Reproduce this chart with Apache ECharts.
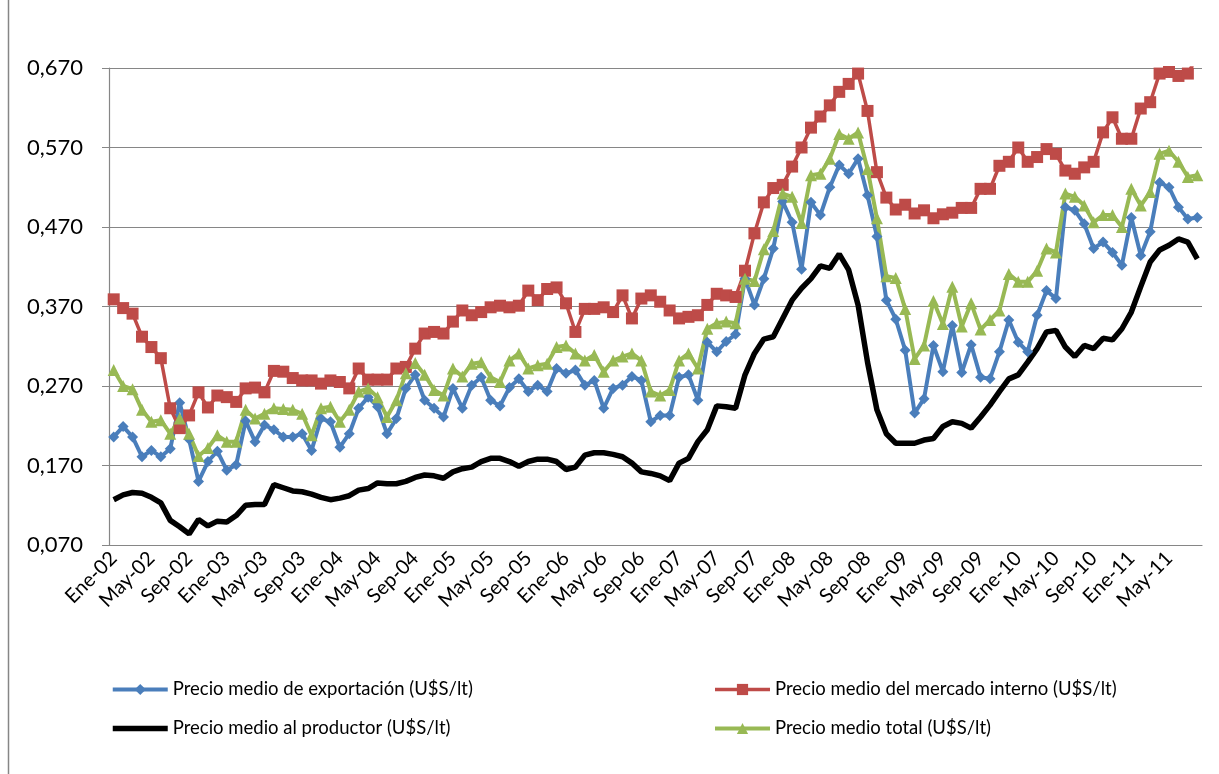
<!DOCTYPE html>
<html>
<head>
<meta charset="utf-8">
<script src="https://cdn.jsdelivr.net/npm/echarts@6/dist/echarts.min.js"></script>
<style>
html, body { margin: 0; padding: 0; background: #fff; }
#chart { width: 1219px; height: 774px; }
</style>
</head>
<body>
<div id="chart"></div>
<script>
// meses Ene-02 .. Ago-11
const monthNames = ['Ene', 'Feb', 'Mar', 'Abr', 'May', 'Jun', 'Jul', 'Ago', 'Sep', 'Oct', 'Nov', 'Dic'];
const years = ['02', '03', '04', '05', '06', '07', '08', '09', '10', '11'];
const months = [];
years.forEach(y => monthNames.forEach(m => months.push(m + '-' + y)));
months.length = 116;

const exportacion = [
  0.206, 0.219, 0.206, 0.181, 0.189, 0.181, 0.191, 0.249, 0.203, 0.150, 0.175, 0.188,
  0.164, 0.171, 0.226, 0.200, 0.221, 0.215, 0.206, 0.206, 0.210, 0.189, 0.229, 0.225,
  0.193, 0.210, 0.242, 0.256, 0.244, 0.210, 0.229, 0.267, 0.284, 0.252, 0.242, 0.231,
  0.267, 0.242, 0.271, 0.281, 0.252, 0.245, 0.268, 0.279, 0.263, 0.271, 0.263, 0.292,
  0.286, 0.290, 0.271, 0.277, 0.242, 0.267, 0.271, 0.282, 0.277, 0.225, 0.233, 0.233,
  0.281, 0.284, 0.252, 0.325, 0.313, 0.326, 0.335, 0.405, 0.372, 0.405, 0.443, 0.502,
  0.476, 0.417, 0.501, 0.485, 0.520, 0.548, 0.537, 0.556, 0.510, 0.458, 0.378, 0.354,
  0.315, 0.236, 0.254, 0.321, 0.288, 0.346, 0.287, 0.322, 0.281, 0.279, 0.313, 0.353,
  0.325, 0.313, 0.359, 0.390, 0.380, 0.495, 0.491, 0.474, 0.443, 0.451, 0.438, 0.422,
  0.482, 0.434, 0.464, 0.526, 0.520, 0.495, 0.480, 0.482
];

const mercadoInterno = [
  0.379, 0.368, 0.361, 0.332, 0.319, 0.305, 0.242, 0.217, 0.233, 0.262, 0.243, 0.258,
  0.256, 0.250, 0.267, 0.268, 0.262, 0.289, 0.288, 0.280, 0.277, 0.277, 0.273, 0.277,
  0.275, 0.267, 0.292, 0.278, 0.278, 0.278, 0.292, 0.294, 0.317, 0.336, 0.338, 0.336,
  0.351, 0.365, 0.359, 0.363, 0.369, 0.371, 0.369, 0.371, 0.390, 0.378, 0.392, 0.394,
  0.374, 0.338, 0.367, 0.367, 0.369, 0.363, 0.384, 0.355, 0.380, 0.384, 0.376, 0.365,
  0.355, 0.357, 0.359, 0.372, 0.386, 0.384, 0.382, 0.415, 0.462, 0.501, 0.519, 0.523,
  0.546, 0.570, 0.595, 0.609, 0.623, 0.640, 0.650, 0.663, 0.616, 0.539, 0.507, 0.492,
  0.498, 0.487, 0.491, 0.481, 0.486, 0.488, 0.494, 0.494, 0.518, 0.518, 0.547, 0.552,
  0.570, 0.552, 0.558, 0.568, 0.562, 0.541, 0.537, 0.545, 0.552, 0.589, 0.608, 0.581,
  0.581, 0.619, 0.627, 0.663, 0.665, 0.660, 0.663, 0.685
];

const productor = [
  0.127, 0.133, 0.136, 0.135, 0.130, 0.123, 0.101, 0.093, 0.084, 0.102, 0.094, 0.100,
  0.099, 0.107, 0.120, 0.121, 0.121, 0.146, 0.142, 0.138, 0.137, 0.134, 0.130, 0.127,
  0.129, 0.132, 0.139, 0.141, 0.148, 0.147, 0.147, 0.150, 0.155, 0.158, 0.157, 0.154,
  0.162, 0.166, 0.168, 0.175, 0.179, 0.179, 0.175, 0.169, 0.175, 0.178, 0.178, 0.175,
  0.165, 0.168, 0.183, 0.186, 0.186, 0.184, 0.181, 0.173, 0.162, 0.160, 0.157, 0.151,
  0.173, 0.179, 0.200, 0.215, 0.245, 0.244, 0.242, 0.284, 0.311, 0.329, 0.332, 0.355,
  0.378, 0.393, 0.405, 0.421, 0.418, 0.436, 0.416, 0.372, 0.300, 0.240, 0.210, 0.198,
  0.198, 0.198, 0.202, 0.204, 0.219, 0.225, 0.223, 0.217, 0.231, 0.246, 0.263, 0.279,
  0.284, 0.300, 0.317, 0.338, 0.340, 0.319, 0.307, 0.321, 0.317, 0.330, 0.328, 0.342,
  0.363, 0.395, 0.426, 0.441, 0.447, 0.455, 0.451, 0.430
];

const total = [
  0.290, 0.270, 0.266, 0.240, 0.225, 0.227, 0.210, 0.229, 0.210, 0.182, 0.192, 0.208,
  0.200, 0.200, 0.240, 0.229, 0.235, 0.242, 0.241, 0.240, 0.235, 0.208, 0.242, 0.244,
  0.225, 0.240, 0.263, 0.267, 0.256, 0.231, 0.252, 0.286, 0.299, 0.284, 0.265, 0.258,
  0.292, 0.282, 0.298, 0.300, 0.281, 0.275, 0.302, 0.311, 0.292, 0.296, 0.298, 0.319,
  0.321, 0.311, 0.302, 0.309, 0.288, 0.302, 0.307, 0.311, 0.302, 0.263, 0.258, 0.265,
  0.302, 0.311, 0.292, 0.342, 0.349, 0.351, 0.349, 0.405, 0.402, 0.442, 0.465, 0.512,
  0.508, 0.475, 0.535, 0.537, 0.556, 0.587, 0.581, 0.589, 0.543, 0.481, 0.408, 0.406,
  0.367, 0.304, 0.321, 0.377, 0.348, 0.395, 0.345, 0.374, 0.341, 0.353, 0.365, 0.411,
  0.401, 0.401, 0.415, 0.443, 0.438, 0.512, 0.508, 0.497, 0.476, 0.485, 0.485, 0.470,
  0.518, 0.497, 0.514, 0.562, 0.566, 0.552, 0.533, 0.535
];

const yTicks = { min: 0.07, max: 0.67, step: 0.1 };

const names = [
  'Precio medio de exportación (U$S/lt)',
  'Precio medio del mercado interno (U$S/lt)',
  'Precio medio al productor (U$S/lt)',
  'Precio medio total (U$S/lt)'
];

const chart = echarts.init(document.getElementById('chart'));
const axisGray = '#868686';
const legendText = { fontSize: 18.5, fontFamily: 'Lato', color: '#000' };

const option = {
  animation: false,
  backgroundColor: '#fff',
  textStyle: { fontFamily: 'Lato' },
  graphic: [
    { type: 'line', shape: { x1: 8.5, y1: 0, x2: 8.5, y2: 774 }, style: { stroke: axisGray, lineWidth: 1.5 } }
  ],
  grid: { left: 109, right: 17, top: 68, bottom: 229, containLabel: false },
  legend: [
    {
      data: [names[0], { name: names[2], itemStyle: { opacity: 0 } }],
      orient: 'vertical', left: 110, top: 680, padding: 0,
      itemWidth: 55, itemHeight: 14, itemGap: 20, textStyle: legendText,
      lineStyle: { width: 'inherit' }
    },
    {
      data: [names[1], names[3]],
      orient: 'vertical', left: 713, top: 680, padding: 0,
      itemWidth: 55, itemHeight: 14, itemGap: 20, textStyle: legendText,
      lineStyle: { width: 'inherit' }
    }
  ],
  xAxis: {
    type: 'category',
    data: months,
    boundaryGap: true,
    axisLine: { lineStyle: { color: axisGray, width: 1.2 } },
    axisTick: { interval: 3, length: 7, lineStyle: { color: axisGray } },
    axisLabel: { interval: 3, rotate: 45, fontSize: 20, color: '#000', fontFamily: 'Lato', margin: 10 },
    splitLine: { show: false }
  },
  yAxis: {
    type: 'value',
    min: yTicks.min,
    max: yTicks.max,
    interval: yTicks.step,
    axisLine: { show: true, lineStyle: { color: axisGray, width: 1.2 } },
    axisTick: { show: true, length: 7, lineStyle: { color: axisGray } },
    splitLine: { lineStyle: { color: axisGray, width: 1.2 } },
    axisLabel: {
      formatter: v => v.toFixed(3).replace('.', ','),
      fontSize: 22, color: '#000', fontFamily: 'Lato', margin: 26
    }
  },
  series: [
    {
      name: names[0], type: 'line', data: exportacion,
      symbol: 'diamond', symbolSize: 11, showAllSymbol: true,
      lineStyle: { width: 4, color: '#4A7EBB' },
      itemStyle: { color: '#4A7EBB' }
    },
    {
      name: names[1], type: 'line', data: mercadoInterno,
      symbol: 'rect', symbolSize: 12, showAllSymbol: true,
      lineStyle: { width: 3.5, color: '#BE4B48' },
      itemStyle: { color: '#BE4B48' }
    },
    {
      name: names[2], type: 'line', data: productor,
      symbol: 'none',
      lineStyle: { width: 5.5, color: '#000' },
      itemStyle: { color: '#000' }
    },
    {
      name: names[3], type: 'line', data: total,
      symbol: 'triangle', symbolSize: 12, showAllSymbol: true,
      lineStyle: { width: 4, color: '#98B954' },
      itemStyle: { color: '#98B954' }
    }
  ]
};

chart.setOption(option);
</script>
</body>
</html>
